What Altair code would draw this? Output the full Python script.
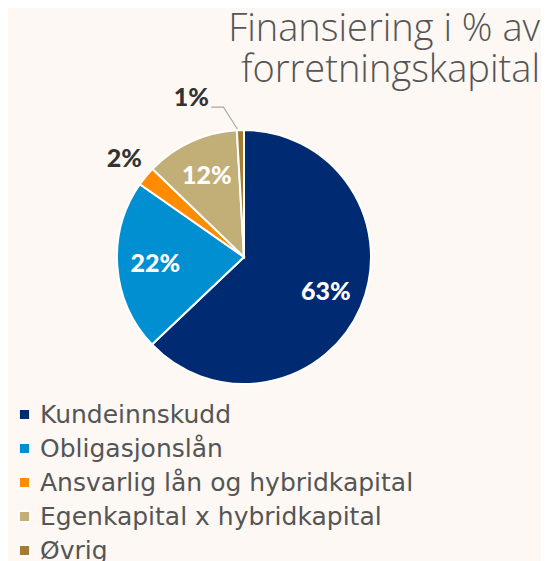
import math
import altair as alt
import pandas as pd

categories = ["Kundeinnskudd", "Obligasjonslån", "Ansvarlig lån og hybridkapital",
              "Egenkapital x hybridkapital", "Øvrig"]
values = [62.9, 21.8, 2.5, 11.9, 0.9]
labels = ["63%", "22%", "2%", "12%", "1%"]
colors = ["#002a72", "#0090d2", "#ff8c00", "#c2af78", "#a57c2f"]
title_lines = ["Finansiering i % av", "forretningskapital"]

CX, CY, R = 236, 249, 127
W, H = 533, 553

df = pd.DataFrame({"cat": categories, "value": values, "label": labels, "idx": list(range(len(values)))})

base = alt.Chart(df)

pie = base.mark_arc(outerRadius=R, stroke="white", strokeWidth=2).encode(
    theta=alt.Theta("value:Q", stack=True),
    order=alt.Order("idx:Q"),
    color=alt.Color(
        "cat:N",
        scale=alt.Scale(domain=categories, range=colors),
        sort=categories,
        legend=alt.Legend(
            orient="none", legendX=4, legendY=394, direction="vertical", title=None,
            symbolType="square", symbolSize=115, symbolStrokeWidth=1.5,
            symbolStrokeColor="white",
            labelFont="DejaVu Sans", labelFontSize=25, labelColor="#555555",
            labelOffset=3, rowPadding=8, padding=0, labelLimit=600,
        ),
    ),
    x=alt.value(CX),
    y=alt.value(CY),
)

lbase = (
    base.transform_joinaggregate(total="sum(value)")
    .transform_window(cum="sum(value)", sort=[alt.SortField("idx")], frame=[None, 0])
    .transform_calculate(frac="(datum.cum - datum.value/2) / datum.total")
)
theta_mid = alt.Theta("frac:Q", scale=alt.Scale(domain=[0, 1], range=[0, 2 * math.pi]))

lbl_style = dict(font="Lato", fontWeight=900, fontSize=25)

inside = lbase.transform_filter("datum.value >= 5").mark_text(
    radius=89, color="white", **lbl_style
).encode(theta=theta_mid, text="label:N", x=alt.value(CX), y=alt.value(CY))

outside = lbase.transform_filter("datum.value < 5 && datum.value >= 1.5").mark_text(
    radius=155, color="#333333", **lbl_style
).encode(theta=theta_mid, text="label:N", x=alt.value(CX), y=alt.value(CY))

tiny = lbase.transform_filter("datum.value < 1.5").mark_text(
    radius=161, dx=-48, dy=2, color="#333333", **lbl_style
).encode(theta=theta_mid, text="label:N", x=alt.value(CX), y=alt.value(CY))

# leader line for the smallest slice, derived from its mid angle
cum = sum(values[:-1]) + values[-1] / 2
ang = cum / sum(values) * 2 * math.pi
p0 = (CX + (R + 1) * math.sin(ang) - 3, CY - (R + 1) * math.cos(ang))
p1 = (p0[0] - 14, p0[1] - 22)
p2 = (p1[0] - 12, p1[1])
leader_df = pd.DataFrame({"px": [p0[0], p1[0], p2[0]], "py": [p0[1], p1[1], p2[1]], "o": [0, 1, 2]})
leader = alt.Chart(leader_df).mark_line(color="#a6a6a6", strokeWidth=1.2).encode(
    x=alt.X("px:Q", scale=None, axis=None),
    y=alt.Y("py:Q", scale=None, axis=None),
    order="o:Q",
)

tstyle = dict(align="right", baseline="alphabetic", font="Open Sans", fontWeight=300,
              fontSize=38, color="#555555")
title1 = alt.Chart(pd.DataFrame({"a": [0]})).mark_text(**tstyle).encode(
    x=alt.value(532), y=alt.value(33), text=alt.value(title_lines[0]))
title2 = alt.Chart(pd.DataFrame({"a": [0]})).mark_text(**tstyle).encode(
    x=alt.value(532), y=alt.value(74), text=alt.value(title_lines[1]))

chart = (
    alt.layer(pie, inside, outside, tiny, leader, title1, title2)
    .resolve_scale(theta="independent")
    .properties(width=W, height=H, autosize="none", padding=0)
    .configure(background="#fdf8f4")
    .configure_view(stroke=None)
)

chart.save("out.html", embed_options={"renderer": "svg", "actions": False})
